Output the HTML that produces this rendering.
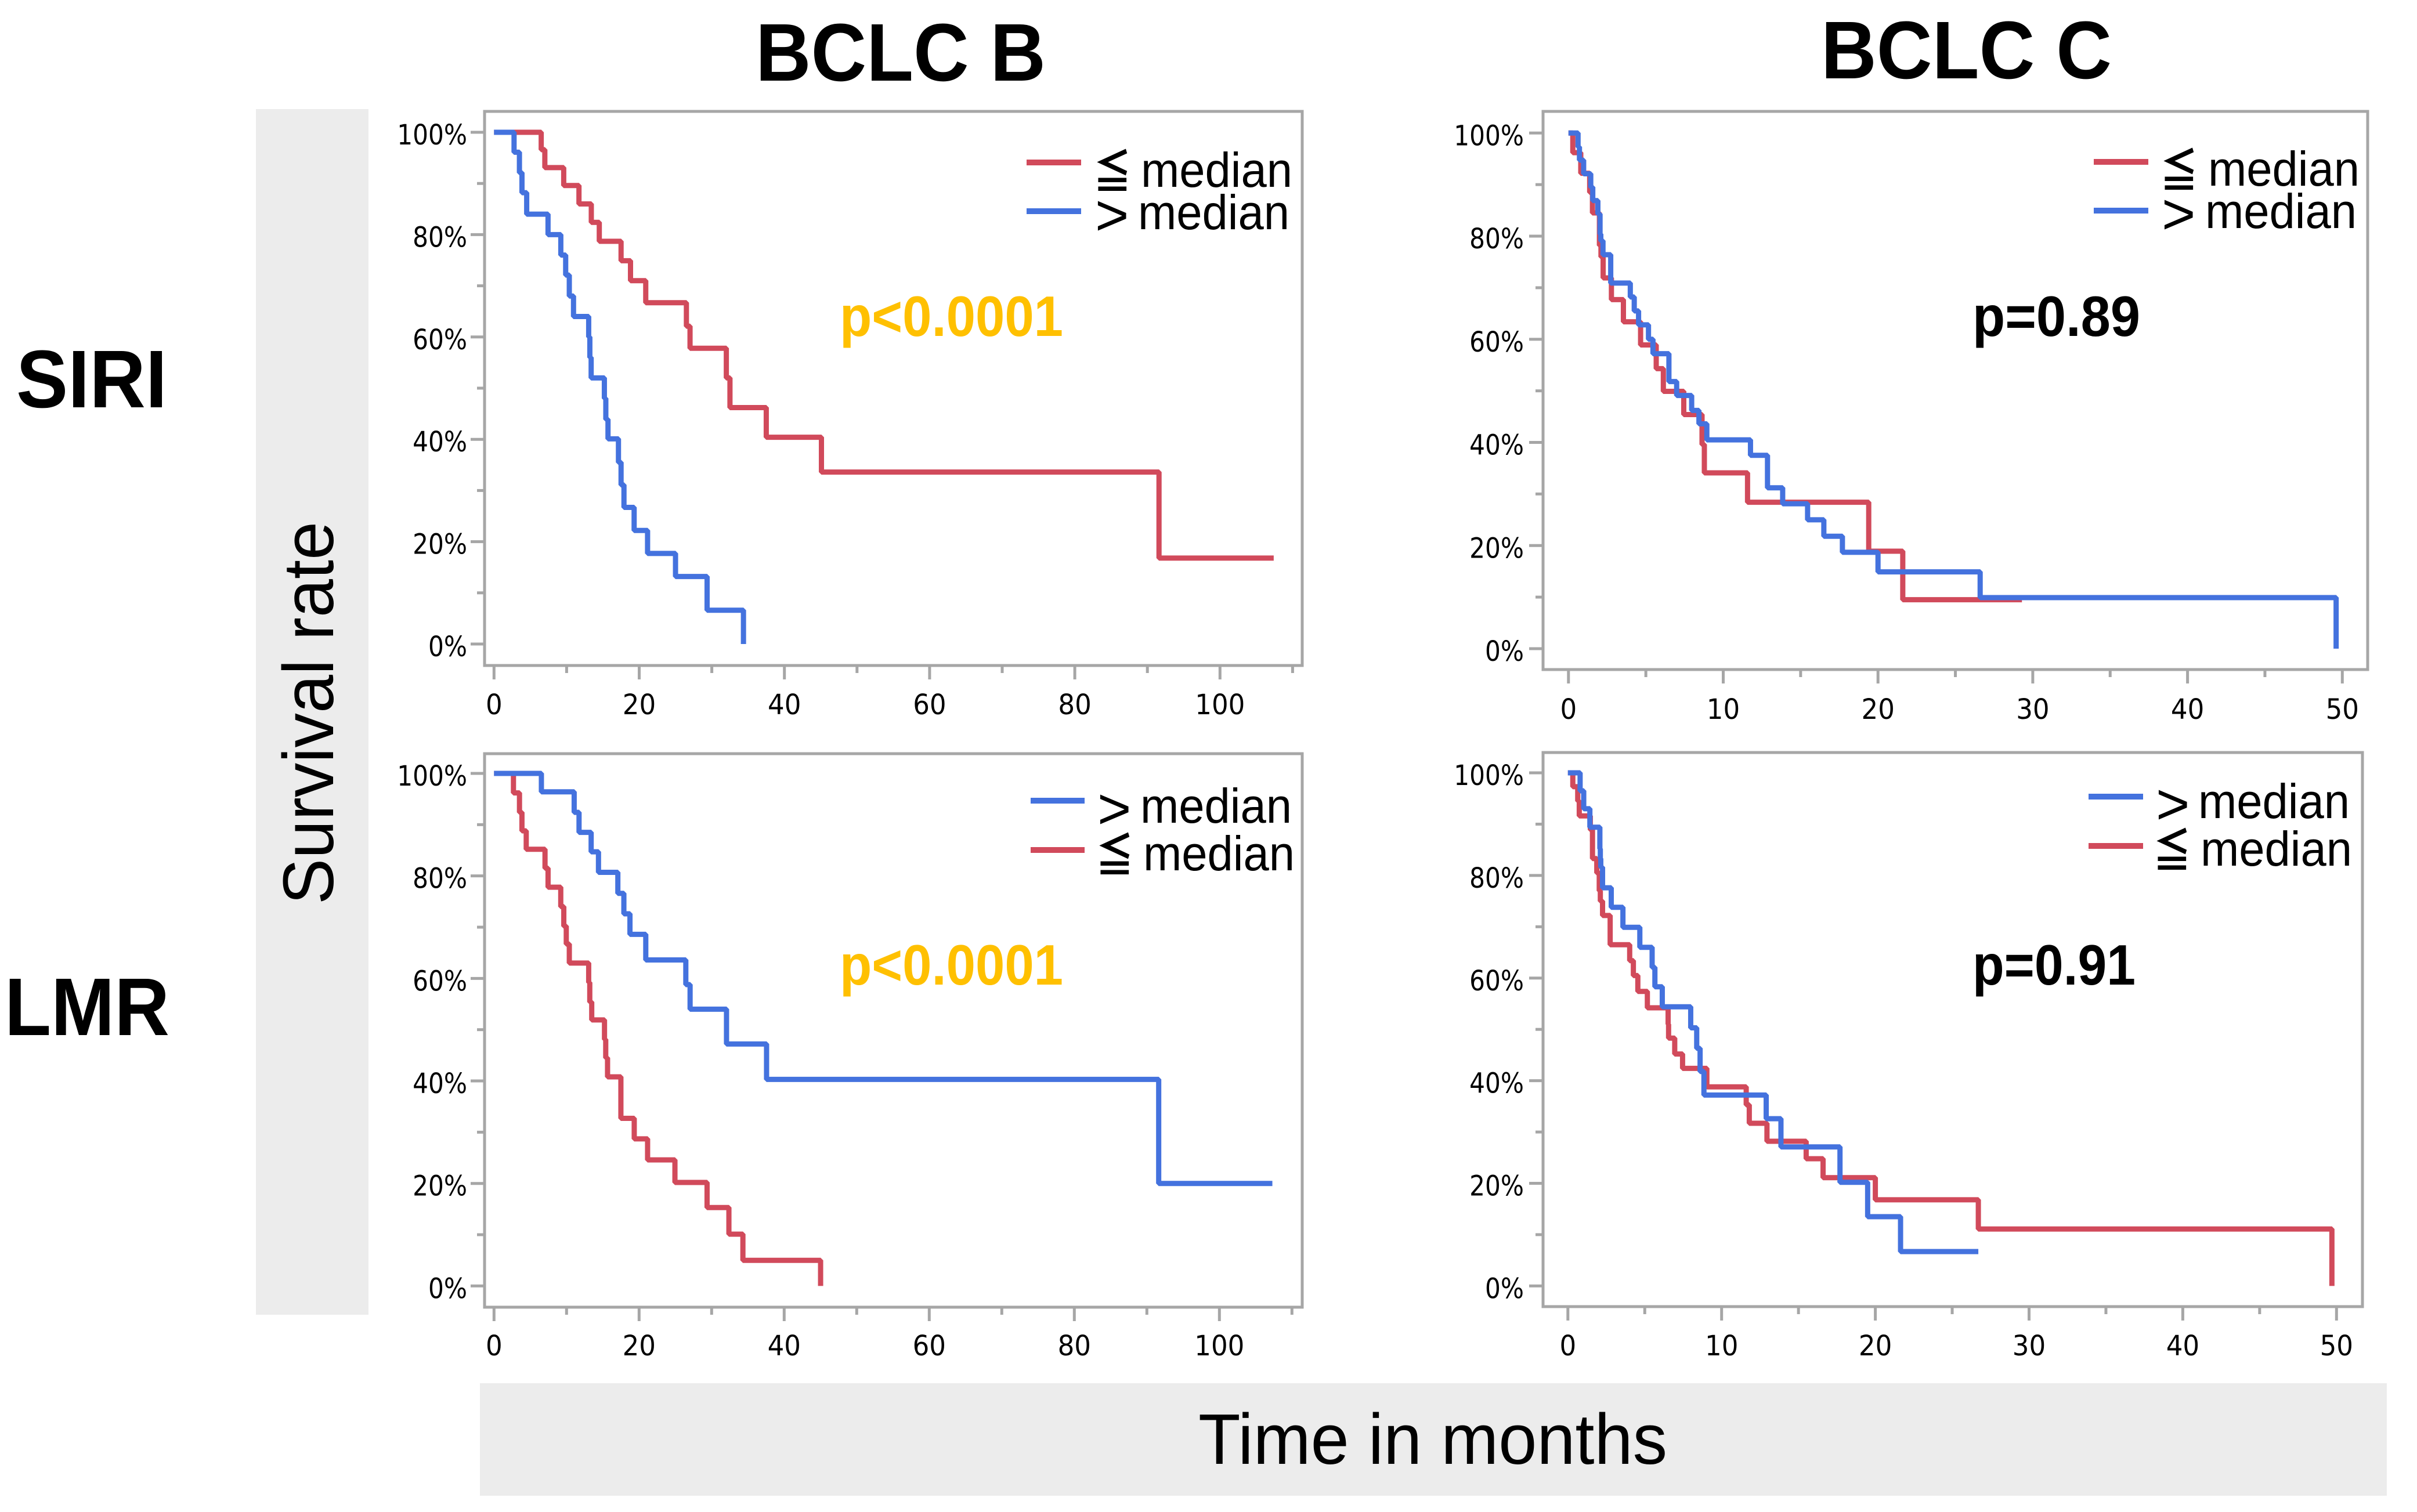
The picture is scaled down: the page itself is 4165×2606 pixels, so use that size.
<!DOCTYPE html>
<html lang="en">
<head>
<meta charset="utf-8">
<title>Survival by SIRI and LMR in BCLC B and C</title>
<style>
html,body{margin:0;padding:0;background:#fff;width:4165px;height:2606px;overflow:hidden}
svg{display:block}
text{font-family:"Liberation Sans","Noto Sans CJK JP",sans-serif;fill:#000}
.tick{font-family:"DejaVu Sans",sans-serif;font-size:48px}
.head{font-weight:bold;font-size:141px}
.leg{font-size:84px}
.gt{font-size:100px}
.sym{font-size:80px;font-weight:bold;font-family:"Noto Sans CJK JP",sans-serif}
.p{font-weight:bold;font-size:98px}
.swatch{stroke-width:10;fill:none}
</style>
</head>
<body>
<svg id="figure" xmlns="http://www.w3.org/2000/svg" width="4165" height="2606" viewBox="0 0 4165 2606">
  <rect width="4165" height="2606" fill="#fff"/>
  <rect x="441" y="188" width="194" height="2078" fill="#ececec"/>
  <rect x="827" y="2384" width="3286" height="194" fill="#ececec"/>
  <text transform="translate(574,1229) rotate(-90)" text-anchor="middle" font-size="123" textLength="660" lengthAdjust="spacingAndGlyphs">Survival rate</text>
  <text x="2469" y="2523" text-anchor="middle" font-size="123" textLength="808" lengthAdjust="spacingAndGlyphs">Time in months</text>
  <text class="head" x="1302" y="139" textLength="500" lengthAdjust="spacingAndGlyphs">BCLC B</text>
  <text class="head" x="3138" y="135" textLength="501" lengthAdjust="spacingAndGlyphs">BCLC C</text>
  <text class="head" x="28" y="702" textLength="260" lengthAdjust="spacingAndGlyphs">SIRI</text>
  <text class="head" x="8" y="1784" textLength="284" lengthAdjust="spacingAndGlyphs">LMR</text>

  <g id="panels"></g>

  <g>
    <line class="swatch" x1="1769" x2="1863" y1="280" y2="280" stroke="#d14a5b"/>
    <line class="swatch" x1="1769" x2="1863" y1="364" y2="364" stroke="#4472de"/>
    <text class="sym" transform="translate(1884,325) scale(.82,1)">≦</text>
    <text class="leg" x="1966" y="322" textLength="261" lengthAdjust="spacingAndGlyphs">median</text>
    <text class="gt" x="1887" y="405">&gt;</text>
    <text class="leg" x="1961" y="395" textLength="261" lengthAdjust="spacingAndGlyphs">median</text>
  </g>
  <g>
    <line class="swatch" x1="3608" x2="3702" y1="279" y2="279" stroke="#d14a5b"/>
    <line class="swatch" x1="3608" x2="3702" y1="363" y2="363" stroke="#4472de"/>
    <text class="sym" transform="translate(3722,323) scale(.82,1)">≦</text>
    <text class="leg" x="3805" y="320" textLength="261" lengthAdjust="spacingAndGlyphs">median</text>
    <text class="gt" x="3725" y="403">&gt;</text>
    <text class="leg" x="3800" y="393" textLength="261" lengthAdjust="spacingAndGlyphs">median</text>
  </g>
  <g>
    <line class="swatch" x1="1776" x2="1869" y1="1380" y2="1380" stroke="#4472de"/>
    <line class="swatch" x1="1776" x2="1869" y1="1465" y2="1465" stroke="#d14a5b"/>
    <text class="gt" x="1891" y="1428">&gt;</text>
    <text class="leg" x="1965" y="1418" textLength="261" lengthAdjust="spacingAndGlyphs">median</text>
    <text class="sym" transform="translate(1888,1503) scale(.82,1)">≦</text>
    <text class="leg" x="1970" y="1500" textLength="261" lengthAdjust="spacingAndGlyphs">median</text>
  </g>
  <g>
    <line class="swatch" x1="3599" x2="3693" y1="1373" y2="1373" stroke="#4472de"/>
    <line class="swatch" x1="3599" x2="3693" y1="1458" y2="1458" stroke="#d14a5b"/>
    <text class="gt" x="3715" y="1420">&gt;</text>
    <text class="leg" x="3788" y="1410" textLength="261" lengthAdjust="spacingAndGlyphs">median</text>
    <text class="sym" transform="translate(3710,1495) scale(.82,1)">≦</text>
    <text class="leg" x="3792" y="1492" textLength="261" lengthAdjust="spacingAndGlyphs">median</text>
  </g>

  <text class="p" x="1447" y="579" textLength="385" lengthAdjust="spacingAndGlyphs" style="fill:#ffc000">p&lt;0.0001</text>
  <text class="p" x="3399" y="579" textLength="289" lengthAdjust="spacingAndGlyphs">p=0.89</text>
  <text class="p" x="1447" y="1697" textLength="385" lengthAdjust="spacingAndGlyphs" style="fill:#ffc000">p&lt;0.0001</text>
  <text class="p" x="3399" y="1697" textLength="281" lengthAdjust="spacingAndGlyphs">p=0.91</text>
</svg>

<script>
// Tick values
var yMajorTicks = [0, 20, 40, 60, 80, 100];
var yMinorTicks = [10, 30, 50, 70, 90];
var xMajorTicksB = [0, 20, 40, 60, 80, 100];
var xMinorTicksB = [10, 30, 50, 70, 90, 110];
var xMajorTicksC = [0, 10, 20, 30, 40, 50];
var xMinorTicksC = [5, 15, 25, 35, 45];

// SIRI, BCLC B. Times hold one extra entry when the curve ends on a censored plateau.
var siriBLowTimes = [6.5, 7.0, 9.6, 11.7, 13.4, 14.5, 17.5, 18.8, 20.9, 26.5, 27.0, 32.0, 32.5, 37.5, 45.1, 91.6, 107.4];
var siriBLowSurvival = [96.6, 93.1, 89.6, 86.0, 82.4, 78.7, 74.9, 71.0, 66.7, 62.1, 57.8, 52.0, 46.2, 40.4, 33.6, 16.8];
var siriBHighTimes = [2.76, 3.5, 3.85, 4.5, 7.44, 9.2, 9.87, 10.37, 10.95, 13.04, 13.2, 13.38, 15.2, 15.4, 15.7, 17.14, 17.5, 17.9, 19.3, 21.15, 25.0, 29.35, 34.36];
var siriBHighSurvival = [96.1, 92.1, 88.2, 84.0, 80.0, 76.0, 72.1, 68.0, 64.0, 60.0, 56.0, 52.0, 48.0, 43.9, 40.1, 35.5, 31.1, 26.7, 22.2, 17.7, 13.2, 6.6, 0];

// SIRI, BCLC C
var siriCLowTimes = [0.28, 0.795, 1.37, 1.55, 2.0, 2.1, 2.24, 2.775, 3.55, 4.66, 5.67, 6.13, 7.45, 8.63, 8.78, 11.57, 19.4, 21.6, 29.3];
var siriCLowSurvival = [96.2, 92.2, 88.5, 84.5, 78.2, 76.0, 71.9, 67.7, 63.4, 58.9, 54.3, 49.9, 45.4, 39.6, 34.1, 28.4, 18.9, 9.5];
var siriCHighTimes = [0.62, 0.71, 0.98, 1.44, 1.57, 1.90, 2.04, 2.09, 2.23, 2.73, 3.995, 4.25, 4.53, 5.17, 5.46, 6.49, 6.99, 7.96, 8.43, 8.94, 11.76, 12.86, 13.84, 15.45, 16.5, 17.7, 20.0, 26.6, 49.6];
var siriCHighSurvival = [97.3, 94.75, 92.1, 89.5, 86.9, 84.3, 80.4, 79.1, 76.4, 70.9, 68.2, 65.5, 62.8, 60.0, 57.2, 51.8, 49.1, 46.2, 43.6, 40.5, 37.5, 31.2, 28.1, 25.0, 21.8, 18.7, 14.9, 9.9, 0];

// LMR, BCLC B
var lmrBLowTimes = [2.68, 3.51, 3.85, 4.44, 7.03, 7.45, 9.2, 9.62, 9.96, 10.38, 13.05, 13.2, 13.47, 15.23, 15.4, 15.65, 17.49, 19.33, 21.17, 24.94, 29.37, 32.38, 34.31, 45.02];
var lmrBLowSurvival = [96.2, 92.4, 88.8, 85.2, 81.5, 77.8, 74.0, 70.2, 66.7, 63.0, 59.2, 55.4, 51.9, 48.1, 44.5, 40.8, 32.7, 28.7, 24.6, 20.2, 15.3, 10.1, 5.0, 0];
var lmrBHighTimes = [6.53, 11.05, 11.72, 13.39, 14.4, 17.07, 17.9, 18.74, 20.92, 26.44, 27.03, 32.05, 37.57, 91.63, 107.3];
var lmrBHighSurvival = [96.4, 92.4, 88.5, 84.7, 80.7, 76.6, 72.6, 68.6, 63.6, 58.8, 54.0, 47.2, 40.3, 20.0];

// LMR, BCLC C
var lmrCLowTimes = [0.32, 0.64, 0.74, 1.46, 1.6, 1.88, 2.04, 2.11, 2.255, 2.75, 4.02, 4.26, 4.55, 5.17, 6.52, 6.55, 6.95, 7.46, 9.04, 11.6, 11.8, 12.95, 15.5, 16.6, 20.0, 26.7, 49.7];
var lmrCLowSurvival = [97.3, 94.5, 91.6, 88.9, 83.3, 80.5, 77.0, 75.0, 72.2, 66.5, 63.4, 60.5, 57.4, 54.2, 51.0, 48.3, 45.2, 42.4, 38.8, 35.3, 31.7, 28.2, 24.8, 21.1, 16.8, 11.1, 0];
var lmrCHighTimes = [0.795, 1.03, 1.43, 2.08, 2.11, 2.14, 2.255, 2.82, 3.58, 4.68, 5.48, 5.66, 6.14, 7.99, 8.38, 8.6, 8.85, 12.9, 13.86, 17.7, 19.5, 21.64, 26.7];
var lmrCHighSurvival = [96.5, 93.0, 89.4, 85.2, 83.3, 81.6, 77.6, 73.8, 69.9, 66.0, 62.1, 58.3, 54.4, 50.3, 46.3, 41.8, 37.2, 32.6, 27.1, 20.2, 13.5, 6.7];

var SVG_NS = 'http://www.w3.org/2000/svg';
var RED = '#d14a5b';
var BLUE = '#4472de';
var GREY = '#a6a6a6';

function stepPath(times, survival, xScale, yScale) {
  var d = 'M' + xScale(0) + ' ' + yScale(100);
  for (var i = 0; i < times.length; i++) {
    d += 'H' + xScale(times[i]);
    if (i < survival.length) d += 'V' + yScale(survival[i]);
  }
  return d;
}

function drawPanel(name, box, xAxis, yAxis, xTicks, xMinor, labelGeom, curves) {
  var root = document.getElementById('panels');
  var g = document.createElementNS(SVG_NS, 'g');
  
  
  root.appendChild(g);

  var xScale = function (v) { return xAxis.origin + v * xAxis.perUnit; };
  var yScale = function (v) { return yAxis.zero + (yAxis.full - yAxis.zero) * v / 100; };

  var frame = document.createElementNS(SVG_NS, 'rect');
  
  
  frame.setAttribute('x', box.left);
  frame.setAttribute('y', box.top);
  frame.setAttribute('width', box.right - box.left);
  frame.setAttribute('height', box.bottom - box.top);
  frame.setAttribute('fill', 'none');
  frame.setAttribute('stroke', GREY);
  frame.setAttribute('stroke-width', 5);
  g.appendChild(frame);

  function addTick(x1, y1, x2, y2) {
    var t = document.createElementNS(SVG_NS, 'line');
    
    
    t.setAttribute('x1', x1);
    t.setAttribute('y1', y1);
    t.setAttribute('x2', x2);
    t.setAttribute('y2', y2);
    t.setAttribute('stroke', GREY);
    t.setAttribute('stroke-width', 5);
    g.appendChild(t);
  }
  function addLabel(str, x, y, anchor, sx, role) {
    var t = document.createElementNS(SVG_NS, 'text');
    
    
    t.setAttribute('class', 'tick');
    t.setAttribute('text-anchor', anchor);
    t.setAttribute('transform', 'translate(' + x + ',' + y + ') scale(' + sx + ',1)');
    t.textContent = str;
    g.appendChild(t);
  }

  xTicks.forEach(function (v) {
    addTick(xScale(v), box.bottom, xScale(v), box.bottom + 24);
    addLabel(String(v), xScale(v), labelGeom.xBase, 'middle', 0.94, 'x-tick-label');
  });
  xMinor.forEach(function (v) {
    addTick(xScale(v), box.bottom, xScale(v), box.bottom + 13);
  });
  yMajorTicks.forEach(function (v) {
    addTick(box.left - 24, yScale(v), box.left, yScale(v));
    addLabel(v + '%', labelGeom.yRight, yScale(v) + 21, 'end', 0.88, 'y-tick-label');
  });
  yMinorTicks.forEach(function (v) {
    addTick(box.left - 13, yScale(v), box.left, yScale(v));
  });

  curves.forEach(function (c) {
    var p = document.createElementNS(SVG_NS, 'path');
    
    
    p.setAttribute('d', stepPath(c.times, c.survival, xScale, yScale));
    p.setAttribute('fill', 'none');
    p.setAttribute('stroke', c.color);
    p.setAttribute('stroke-width', 9);
    p.setAttribute('stroke-linejoin', 'bevel');
    g.appendChild(p);
  });
}

drawPanel('panel-siri-bclc-b',
  {left: 835, top: 192, right: 2244, bottom: 1147},
  {origin: 851.3, perUnit: 12.51}, {full: 228, zero: 1110},
  xMajorTicksB, xMinorTicksB, {xBase: 1231, yRight: 805},
  [{name: 'curve-low-median', color: RED, times: siriBLowTimes, survival: siriBLowSurvival},
   {name: 'curve-high-median', color: BLUE, times: siriBHighTimes, survival: siriBHighSurvival}]);

drawPanel('panel-siri-bclc-c',
  {left: 2659, top: 192, right: 4080, bottom: 1154},
  {origin: 2702.8, perUnit: 26.67}, {full: 229.3, zero: 1118},
  xMajorTicksC, xMinorTicksC, {xBase: 1239, yRight: 2626},
  [{name: 'curve-low-median', color: RED, times: siriCLowTimes, survival: siriCLowSurvival},
   {name: 'curve-high-median', color: BLUE, times: siriCHighTimes, survival: siriCHighSurvival}]);

drawPanel('panel-lmr-bclc-b',
  {left: 835, top: 1299, right: 2244, bottom: 2253},
  {origin: 851.3, perUnit: 12.5}, {full: 1333, zero: 2216.4},
  xMajorTicksB, xMinorTicksB, {xBase: 2336, yRight: 805},
  [{name: 'curve-low-median', color: RED, times: lmrBLowTimes, survival: lmrBLowSurvival},
   {name: 'curve-high-median', color: BLUE, times: lmrBHighTimes, survival: lmrBHighSurvival}]);

drawPanel('panel-lmr-bclc-c',
  {left: 2659, top: 1297, right: 4071, bottom: 2252},
  {origin: 2701.8, perUnit: 26.49}, {full: 1332, zero: 2216.4},
  xMajorTicksC, xMinorTicksC, {xBase: 2336, yRight: 2626},
  [{name: 'curve-low-median', color: RED, times: lmrCLowTimes, survival: lmrCLowSurvival},
   {name: 'curve-high-median', color: BLUE, times: lmrCHighTimes, survival: lmrCHighSurvival}]);
</script>
</body>
</html>
